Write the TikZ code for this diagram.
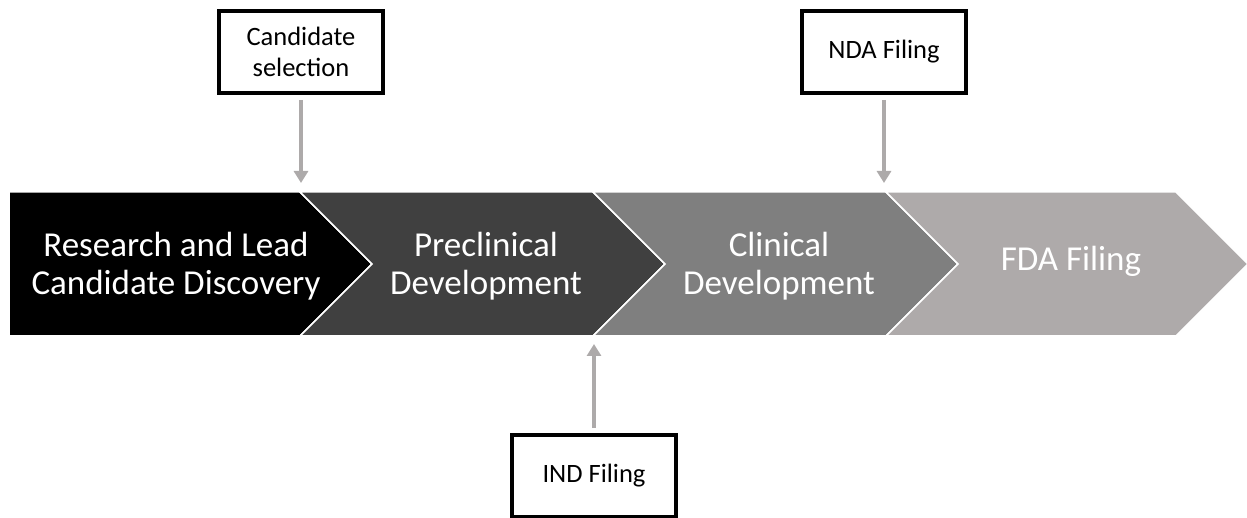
\documentclass[tikz,border=0pt]{standalone}
\usepackage{fontspec}
\setmainfont{Carlito}
\usetikzlibrary{arrows.meta}

\definecolor{stageA}{HTML}{000000}
\definecolor{stageB}{HTML}{404040}
\definecolor{stageC}{HTML}{7F7F7F}
\definecolor{stageD}{HTML}{AEAAAA}
\definecolor{pointer}{HTML}{ADAAAA}

\tikzset{
  stageshape/.style={draw=white, line width=1.5, line join=miter},
  stagelabel/.style={text=white, align=center, inner sep=0,
    font=\fontsize{35}{38}\selectfont},
  milestone/.style={draw=black, line width=4, fill=white, align=center,
    minimum width=164, minimum height=82, inner sep=0,
    font=\fontsize{26.5}{31}\selectfont},
  milestonearrow/.style={draw=pointer, line width=4,
    -{Triangle[width=14,length=12]}, shorten <=5},
}

\begin{document}
\begin{tikzpicture}[x=1pt, y=-1pt]
\useasboundingbox (0,0) rectangle (1247,518);

% process chevrons (top y=192, bottom y=336, point depth 72)
\filldraw[stageshape, fill=stageA]
  (9,192) -- (300,192) -- (372,264) -- (300,336) -- (9,336) -- cycle;
\filldraw[stageshape, fill=stageB]
  (300,192) -- (593,192) -- (665,264) -- (593,336) -- (300,336) -- (372,264) -- cycle;
\filldraw[stageshape, fill=stageC]
  (593,192) -- (886,192) -- (958,264) -- (886,336) -- (593,336) -- (665,264) -- cycle;
\filldraw[stageshape, fill=stageD]
  (886,192) -- (1176,192) -- (1248,264) -- (1176,336) -- (886,336) -- (958,264) -- cycle;

% stage captions
\node[stagelabel] (research) at (176,266) {Research and Lead\\Candidate Discovery};
\node[stagelabel] (preclin) at (486,266) {Preclinical\\Development};
\node[stagelabel] (clinical) at (779,266) {Clinical\\Development};
\node[stagelabel] (fda) at (1071,261) {FDA Filing};

% milestones
\node[milestone] (cand) at (301,52) {Candidate\\selection};
\node[milestone] (nda) at (884,52) {NDA Filing};
\node[milestone] (ind) at (594,476) {IND Filing};

% points on the chevron edges where milestones occur
\coordinate (candAt) at (301,183);
\coordinate (ndaAt) at (884,183);
\coordinate (indAt) at (594,344);

\draw[milestonearrow] (cand.south) -- (candAt);
\draw[milestonearrow] (nda.south) -- (ndaAt);
\draw[milestonearrow] (ind.north) -- (indAt);
\end{tikzpicture}
\end{document}
